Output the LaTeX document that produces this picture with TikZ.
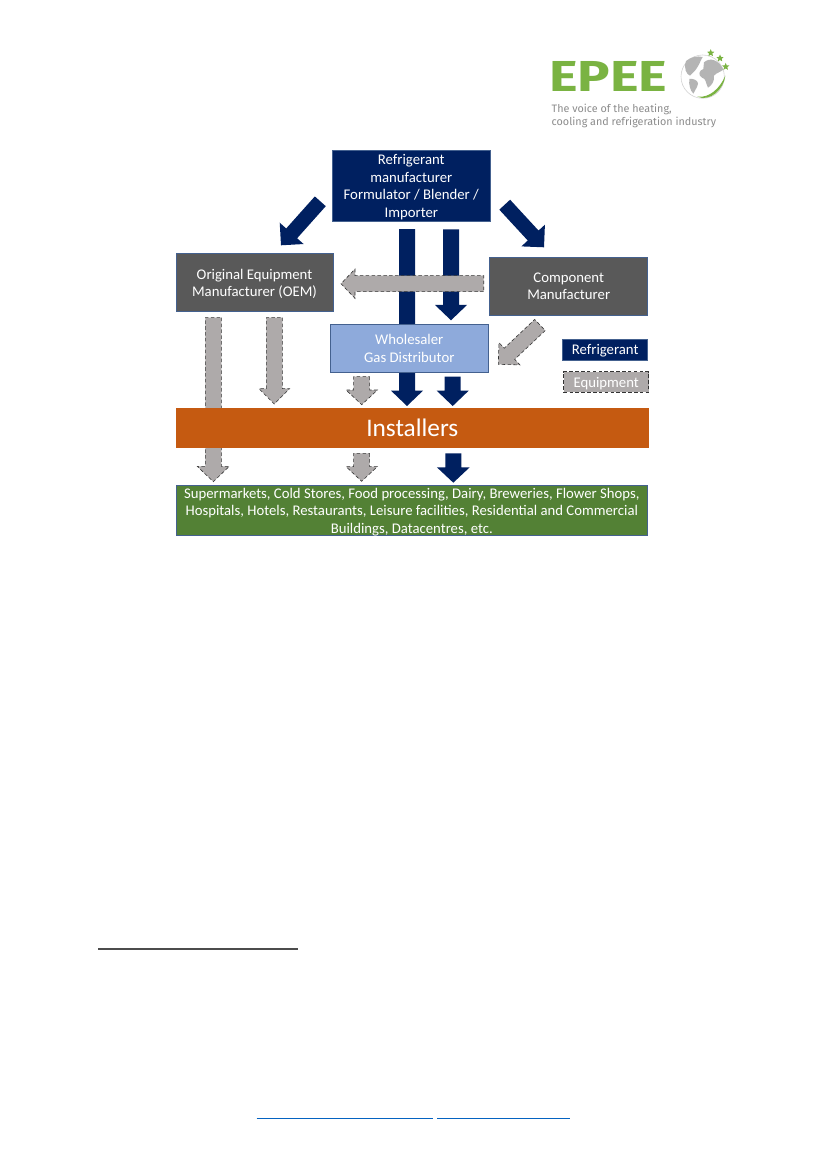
\documentclass[tikz,border=0pt]{standalone}
\usepackage{fontspec}
\setmainfont{Carlito}
\newfontfamily\logofont{Fira Sans}
\usetikzlibrary{calc,shapes.geometric}
\definecolor{Navy}{HTML}{002060}
\definecolor{Slate}{HTML}{595959}
\definecolor{Sky}{HTML}{8EAADB}
\definecolor{Rust}{HTML}{C55A11}
\definecolor{Moss}{HTML}{538135}
\definecolor{Stone}{HTML}{AEAAAA}
\definecolor{Edge}{HTML}{44618F}
\definecolor{Leaf}{HTML}{7AB342}
\definecolor{Tagline}{HTML}{8C8C8C}
\definecolor{Land}{HTML}{B4B4B4}
\definecolor{Link}{HTML}{0563C1}
\tikzset{
  card/.style={draw=Edge,line width=0.5pt,text=white,align=center,inner sep=0pt,text depth=0pt,font=\fontsize{12.6}{15}\selectfont},
  navyflow/.style={fill=Navy},
  stoneflow/.style={fill=Stone,draw=black!80,line width=0.5pt,densely dashed},
  rule/.style={line width=1pt},
  land/.style={fill=Land},
  star5/.style={star,star points=5,star point ratio=2.2,fill=Leaf,inner sep=0pt,minimum size=6.5pt}
}
% block arrow: style, tail, tip, half shaft, half head, head length
\newcommand{\blockarrow}[6]{
  \coordinate (neck) at ($(#3)!#6!(#2)$);
  \path[#1] ($(#2)!#4!90:(#3)$) -- ($(neck)!#4!90:(#3)$) -- ($(neck)!#5!90:(#3)$) -- (#3)
    -- ($(neck)!#5!-90:(#3)$) -- ($(neck)!#4!-90:(#3)$) -- ($(#2)!#4!-90:(#3)$) -- cycle;
}
\begin{document}
\begin{tikzpicture}[x=0.3mm,y=-0.3mm]
  \useasboundingbox[fill=white] (0,0) rectangle (827,1169);

  % arrow ends
  \coordinate (mfrDepart) at (407,229);
  \coordinate (mfrArrive) at (407,406);
  \coordinate (whsDepart) at (451,229.3);
  \coordinate (whsArrive) at (451,320.3);
  \coordinate (oemLongDepart) at (213.3,317.7);
  \coordinate (oemLongArrive) at (213.3,481.7);
  \coordinate (oemDepart) at (274.3,317.7);
  \coordinate (oemArrive) at (274.3,404);

  % arrows that pass behind the boxes
  \blockarrow{navyflow}{mfrDepart}{mfrArrive}{2.4mm}{4.8mm}{4.6mm}
  \blockarrow{navyflow}{whsDepart}{whsArrive}{2.4mm}{4.8mm}{4.6mm}
  \blockarrow{stoneflow}{oemLongDepart}{oemLongArrive}{2.4mm}{4.8mm}{4.6mm}
  \blockarrow{stoneflow}{oemDepart}{oemArrive}{2.4mm}{4.6mm}{4.6mm}

  % boxes
  \node[card,fill=Navy,minimum width=47.4mm,minimum height=21.5mm] (mfr) at (411.3,185.8)
    {Refrigerant\\manufacturer\\Formulator / Blender /\\Importer};
  \node[card,fill=Slate,minimum width=47.1mm,minimum height=17.4mm] (oem) at (254.5,282.7)
    {Original Equipment\\Manufacturer (OEM)};
  \node[card,fill=Slate,minimum width=47.4mm,minimum height=17.4mm] (comp) at (568.7,286)
    {Component\\Manufacturer};
  \node[card,fill=Sky,minimum width=47.4mm,minimum height=14.3mm] (whs) at (409.3,348.2)
    {Wholesaler\\Gas Distributor};
  \node[card,fill=Rust,draw=none,minimum width=141.8mm,minimum height=11.9mm,font=\fontsize{21.6}{24}\selectfont] (inst) at (412.3,428.2) {Installers};
  \node[card,fill=Moss,minimum width=141.5mm,minimum height=15.1mm,font=\fontsize{12.57}{15}\selectfont] (end) at (411.8,510.5)
    {Supermarkets, Cold Stores, Food processing, Dairy, Breweries, Flower Shops,\\Hospitals, Hotels, Restaurants, Leisure facilities, Residential and Commercial\\Buildings, Datacentres, etc.};

  % legend
  \node[card,fill=Navy,minimum width=25.5mm,minimum height=6.3mm] (keyref) at (605.2,349.5) {Refrigerant};
  \node[card,fill=Stone,draw=black!80,densely dashed,minimum width=25.5mm,minimum height=6.2mm] (keyeq) at (606.2,382) {Equipment};

  % arrows in front
  \coordinate (toOemTail) at (320.3,201.3);
  \coordinate (toOemTip) at (281,245.3);
  \coordinate (toCompTail) at (504.7,204.7);
  \coordinate (toCompTip) at (544,247.3);
  \coordinate (crossTail) at (483.7,283.7);
  \coordinate (crossTip) at (341,283.7);
  \coordinate (compTail) at (540,325);
  \coordinate (compTip) at (498.3,364.3);
  \coordinate (whsEqTail) at (361.7,376.7);
  \coordinate (whsEqTip) at (361.7,404.7);
  \coordinate (whsRefTail) at (452.7,376.7);
  \coordinate (whsRefTip) at (452.7,406);
  \coordinate (instEqTail) at (361.7,453.3);
  \coordinate (instEqTip) at (361.7,481.3);
  \coordinate (instRefTail) at (453.3,453.3);
  \coordinate (instRefTip) at (453.3,482.7);
  \blockarrow{navyflow}{toOemTail}{toOemTip}{2.2mm}{4.8mm}{4.8mm}
  \blockarrow{navyflow}{toCompTail}{toCompTip}{2.2mm}{4.8mm}{4.8mm}
  \blockarrow{stoneflow}{crossTail}{crossTip}{2.4mm}{4.4mm}{4.2mm}
  \blockarrow{stoneflow}{compTail}{compTip}{2.3mm}{4.6mm}{4.6mm}
  \blockarrow{stoneflow}{whsEqTail}{whsEqTip}{2.4mm}{4.7mm}{4.4mm}
  \blockarrow{navyflow}{whsRefTail}{whsRefTip}{2.4mm}{4.8mm}{4.6mm}
  \blockarrow{stoneflow}{instEqTail}{instEqTip}{2.4mm}{4.7mm}{4.4mm}
  \blockarrow{navyflow}{instRefTail}{instRefTip}{2.4mm}{4.9mm}{4.6mm}

  % logo
  \node[anchor=west,inner sep=0pt,text=Leaf,font=\logofont\bfseries\fontsize{37}{37}\selectfont] (brand) at (549,76.8) {\scalebox{1.25}[1]{EPEE}};
  \node[anchor=north west,inner sep=0pt,align=left,text=Tagline,font=\logofont\fontsize{9.2}{11.6}\selectfont] (tagline) at (551.5,103.5) {The voice of the heating,\\cooling and refrigeration industry};
  \begin{scope}[shift={(670,45)},x=0.1mm,y=-0.1mm]
    \draw[Land!60,line width=0.5pt,fill=white] (98,95) circle (65);
    % north america
    \path[land] (48,48) .. controls (62,36) and (82,32) .. (98,36) .. controls (92,46) and (88,58) .. (80,70) .. controls (74,80) and (66,84) .. (60,92) .. controls (50,88) and (40,72) .. (48,48) -- cycle;
    % eurasia and africa
    \path[land] (102,52) .. controls (120,36) and (146,44) .. (160,74) .. controls (150,82) and (138,84) .. (132,92) .. controls (134,110) and (124,122) .. (114,128) .. controls (106,112) and (108,100) .. (96,98) .. controls (84,92) and (86,76) .. (100,72) -- cycle;
    % south america
    \path[land] (58,102) .. controls (70,100) and (84,106) .. (84,116) .. controls (82,128) and (74,136) .. (70,146) .. controls (60,136) and (56,118) .. (58,102) -- cycle;
    % swoosh
    \path[fill=Leaf] (82,155) .. controls (118,160) and (150,130) .. (166,92) .. controls (162,132) and (120,172) .. (82,155) -- cycle;
  \end{scope}
  \node[star5] (starA) at (710.7,53) {};
  \node[star5] (starB) at (720,58.3) {};
  \node[star5] (starC) at (725.7,66.7) {};

  % page rules
  \draw[rule,black!70] (98.3,949) -- (298.3,949);
  \draw[rule,Link] (256.7,1118.3) -- (433.3,1118.3);
  \draw[rule,Link] (437,1118.3) -- (570,1118.3);
\end{tikzpicture}
\end{document}
